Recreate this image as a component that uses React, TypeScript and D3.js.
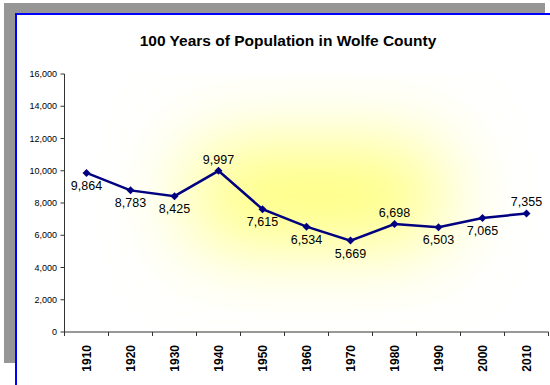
import React from "react";
import * as d3 from "d3";

const years = ["1910", "1920", "1930", "1940", "1950", "1960", "1970", "1980", "1990", "2000", "2010"];
const population = [9864, 8783, 8425, 9997, 7615, 6534, 5669, 6698, 6503, 7065, 7355];
const labelAbove = [false, false, false, true, false, false, false, true, false, false, true];
const yTicks = [0, 2000, 4000, 6000, 8000, 10000, 12000, 14000, 16000];
const title = "100 Years of Population in Wolfe County";

const W = 550;
const H = 385;
const plot = { left: 64.5, right: 548.5, top: 74, bottom: 332 };

export default function App() {
  const x = d3.scaleBand<string>().domain(years).range([plot.left, plot.right]).padding(0);
  const y = d3.scaleLinear().domain([0, 16000]).range([plot.bottom, plot.top]);
  const cx = (yr: string) => (x(yr) as number) + x.bandwidth() / 2;
  const line = d3
    .line<number>()
    .x((_, i) => cx(years[i]))
    .y((d) => y(d));
  const fmt = d3.format(",");
  const font = "Arial, 'Liberation Sans', sans-serif";
  const pw = plot.right - plot.left;
  const ph = plot.bottom - plot.top;

  return (
    <div style={{ position: "absolute", left: 0, top: 0 }}>
      <svg width={W} height={H} style={{ display: "block" }} fontFamily={font}>
        <defs>
          <filter
            id="blur"
            filterUnits="userSpaceOnUse"
            x={plot.left - 50}
            y={plot.top - 50}
            width={pw + 100}
            height={ph + 100}
          >
            <feGaussianBlur stdDeviation="42" />
          </filter>
          <clipPath id="plotclip">
            <rect x={plot.left} y={plot.top} width={pw} height={ph} />
          </clipPath>
        </defs>
        <rect x={0} y={0} width={W} height={H} fill="#fff" />
        <rect x={4} y={3} width={541} height={360} fill="#969696" />
        <rect x={15} y={13} width={W} height={H} fill="#fff" />
        <line x1={16} y1={13} x2={16} y2={H} stroke="#0000ff" strokeWidth={2} />
        <line x1={15} y1={14} x2={W} y2={14} stroke="#0000ff" strokeWidth={2} />

        <text x={288} y={46} textAnchor="middle" fontWeight="bold" fontSize={15.5} fill="#000">
          {title}
        </text>

        <g clipPath="url(#plotclip)">
          <rect x={plot.left} y={plot.top} width={pw} height={ph} fill="#fff" />
          <rect
            x={plot.left + pw * 0.27}
            y={plot.top + ph * 0.3}
            width={pw * 0.5}
            height={ph * 0.34}
            fill="#ffff66"
            filter="url(#blur)"
          />
        </g>

        {/* y axis */}
        <line x1={plot.left} y1={plot.top} x2={plot.left} y2={plot.bottom} stroke="#333" strokeWidth={1} />
        {yTicks.map((t) => (
          <g key={t}>
            <line x1={plot.left - 4} x2={plot.left} y1={y(t)} y2={y(t)} stroke="#333" />
            <text x={57} y={y(t) + 3} textAnchor="end" fontSize={9} fill="#000">
              {fmt(t)}
            </text>
          </g>
        ))}

        {/* x axis */}
        <line x1={plot.left} y1={plot.bottom} x2={plot.right} y2={plot.bottom} stroke="#333" strokeWidth={1} />
        {years.map((yr) => (
          <line
            key={"t" + yr}
            x1={x(yr) as number}
            x2={x(yr) as number}
            y1={plot.bottom}
            y2={plot.bottom + 4}
            stroke="#333"
          />
        ))}
        <line x1={plot.right} x2={plot.right} y1={plot.bottom} y2={plot.bottom + 4} stroke="#333" />
        {years.map((yr) => (
          <text
            key={"l" + yr}
            transform={`translate(${cx(yr) + 4.5},${plot.bottom + 13}) rotate(-90)`}
            textAnchor="end"
            fontSize={12}
            fontWeight="bold"
            fill="#000"
          >
            {yr}
          </text>
        ))}

        {/* series */}
        <path d={line(population) || ""} fill="none" stroke="#000080" strokeWidth={2.5} />
        {population.map((v, i) => {
          const px = cx(years[i]);
          const py = y(v);
          const s = 4;
          return (
            <path
              key={"m" + i}
              d={`M${px},${py - s}L${px + s},${py}L${px},${py + s}L${px - s},${py}Z`}
              fill="#000080"
            />
          );
        })}
        {population.map((v, i) => (
          <text
            key={"d" + i}
            x={cx(years[i])}
            y={labelAbove[i] ? y(v) - 7 : y(v) + 17}
            textAnchor="middle"
            fontSize={12.5}
            fill="#000"
          >
            {fmt(v)}
          </text>
        ))}
      </svg>
    </div>
  );
}
